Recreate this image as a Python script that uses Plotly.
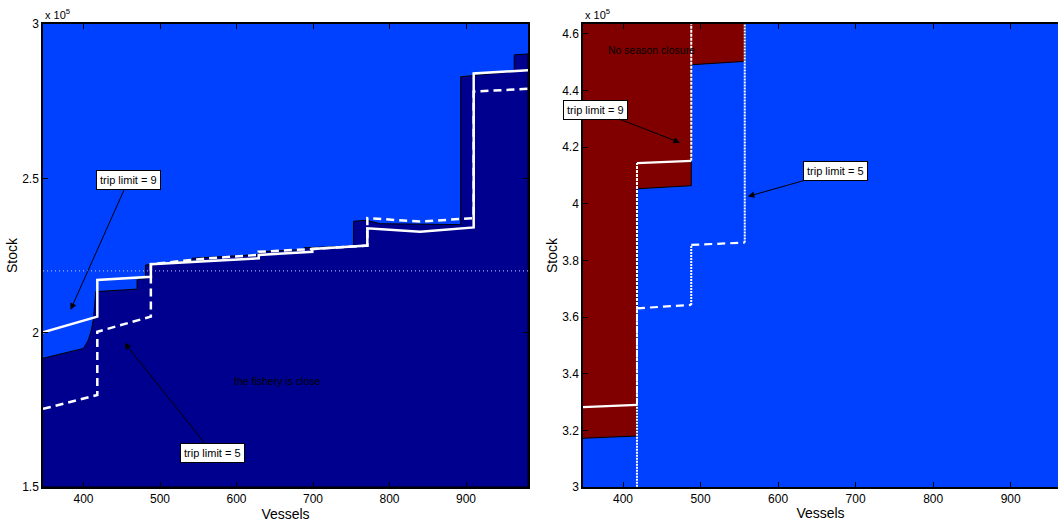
import plotly.graph_objects as go

# ---- data (stock in units of 1e5) ----
# Left panel: region where the fishery is closed (upper boundary)
closed_vessels = [347, 400, 406, 410, 413, 415, 416, 470, 470, 481, 481, 542, 542, 629, 629,
                  688, 688, 753, 753, 770, 788, 893, 893, 963, 963, 981]
closed_stock = [1.917, 1.949, 1.975, 2.005, 2.045, 2.09, 2.133, 2.141, 2.171, 2.175, 2.219,
                2.232, 2.241, 2.253, 2.262, 2.269, 2.275, 2.281, 2.361, 2.364, 2.353, 2.35,
                2.829, 2.846, 2.9, 2.903]

# Left panel: trip limit = 9 (solid) and trip limit = 5 (dashed)
tl9_vessels = [347, 418, 418, 488, 488, 629, 629, 699, 699, 771, 771, 840, 910, 910, 981]
tl9_stock = [2.001, 2.052, 2.171, 2.181, 2.222, 2.241, 2.252, 2.262, 2.271, 2.282, 2.338,
             2.327, 2.341, 2.84, 2.85]
tl5_vessels = [347, 418, 418, 488, 488, 559, 629, 629, 699, 771, 771, 840, 910, 910, 981]
tl5_stock = [1.753, 1.798, 2.003, 2.052, 2.222, 2.24, 2.252, 2.262, 2.271, 2.282, 2.371,
             2.36, 2.371, 2.781, 2.79]
ref_stock = 2.2

# Right panel: no season closure region (lower boundary)
open_vessels = [347, 418, 418, 488, 488, 557, 557, 347]
open_stock = [3.172, 3.18, 4.053, 4.064, 4.491, 4.503, 4.64, 4.64]

# Right panel trip limit lines
r9_vessels = [347, 418, 418, 488, 488]
r9_stock = [3.282, 3.29, 4.144, 4.152, 4.64]
r5_vessels = [418, 418, 488, 488, 557, 557]
r5_stock = [2.99, 3.631, 3.643, 3.855, 3.863, 4.64]

x_ticks = [400, 500, 600, 700, 800, 900]
left_y_ticks = [1.5, 2, 2.5, 3]
right_y_ticks = [3, 3.2, 3.4, 3.6, 3.8, 4, 4.2, 4.4, 4.6]

LIGHT = "#0040FF"
DARK = "#00008F"
MAROON = "#800000"
FONT = "Liberation Sans, Arial, sans-serif"


def split_steps(xs, ys):
    """Split a step line into its vertical and sloped/horizontal pieces."""
    vert_x, vert_y, flat_x, flat_y = [], [], [], []
    for i in range(len(xs) - 1):
        tx, ty = (vert_x, vert_y) if xs[i] == xs[i + 1] else (flat_x, flat_y)
        tx += [xs[i], xs[i + 1], None]
        ty += [ys[i], ys[i + 1], None]
    return vert_x, vert_y, flat_x, flat_y


fig = go.Figure()

fig.add_trace(go.Scatter(
    x=closed_vessels + [981, 347], y=closed_stock + [1.5, 1.5],
    fill="toself", fillcolor=DARK, mode="lines",
    line=dict(color="black", width=1), xaxis="x", yaxis="y", hoverinfo="skip"))
fig.add_trace(go.Scatter(
    x=[347, 981], y=[ref_stock, ref_stock], mode="lines",
    line=dict(color="rgba(215,220,255,0.75)", width=1.2, dash="1px,3px"),
    xaxis="x", yaxis="y"))
fig.add_trace(go.Scatter(
    x=tl5_vessels, y=tl5_stock, mode="lines",
    line=dict(color="white", width=2.5, dash="8px,5px"), xaxis="x", yaxis="y"))
fig.add_trace(go.Scatter(
    x=tl9_vessels, y=tl9_stock, mode="lines",
    line=dict(color="white", width=2.5), xaxis="x", yaxis="y"))

fig.add_trace(go.Scatter(
    x=open_vessels, y=open_stock, fill="toself", fillcolor=MAROON, mode="lines",
    line=dict(color="black", width=1), xaxis="x2", yaxis="y2", hoverinfo="skip"))

r5_vx, r5_vy, r5_fx, r5_fy = split_steps(r5_vessels, r5_stock)
fig.add_trace(go.Scatter(
    x=r5_vx, y=r5_vy, mode="lines",
    line=dict(color="white", width=2, dash="2px,1px"), xaxis="x2", yaxis="y2"))
fig.add_trace(go.Scatter(
    x=r5_fx, y=r5_fy, mode="lines",
    line=dict(color="white", width=2.2, dash="8px,5px"), xaxis="x2", yaxis="y2"))

r9_vx, r9_vy, r9_fx, r9_fy = split_steps(r9_vessels, r9_stock)
fig.add_trace(go.Scatter(
    x=r9_vx, y=r9_vy, mode="lines",
    line=dict(color="white", width=2, dash="3px,1px"), xaxis="x2", yaxis="y2"))
fig.add_trace(go.Scatter(
    x=r9_fx, y=r9_fy, mode="lines",
    line=dict(color="white", width=2.2), xaxis="x2", yaxis="y2"))

W, H = 1058, 525
axis_common = dict(showline=True, linecolor="black", linewidth=1.5,
                   ticks="inside", ticklen=5, tickcolor="black", tickwidth=1,
                   showgrid=False, zeroline=False,
                   tickfont=dict(family=FONT, size=12, color="black"))

fig.update_layout(
    width=W, height=H, showlegend=False,
    margin=dict(l=0, r=0, t=24, b=38),
    paper_bgcolor="white", plot_bgcolor=LIGHT,
    font=dict(family=FONT, color="black"),
    xaxis=dict(domain=[43 / W, 528 / W], range=[347, 981], tickvals=x_ticks, anchor="y",
               mirror="ticks",
               title=dict(text="Vessels", font=dict(size=14), standoff=3), **axis_common),
    yaxis=dict(domain=[0, 1], range=[1.5, 3.0], tickvals=left_y_ticks, anchor="x",
               mirror="ticks",
               title=dict(text="Stock", font=dict(size=14), standoff=1), **axis_common),
    xaxis2=dict(domain=[583 / W, 1], range=[348.4, 961], tickvals=x_ticks, anchor="y2",
                mirror="ticks",
                title=dict(text="Vessels", font=dict(size=14), standoff=3), **axis_common),
    yaxis2=dict(domain=[0, 1], range=[3.0, 4.635], tickvals=right_y_ticks, anchor="x2",
                mirror=False,
                title=dict(text="Stock", font=dict(size=14), standoff=1), **axis_common),
)

box = dict(bgcolor="white", bordercolor="black", borderwidth=1, borderpad=3,
           font=dict(family=FONT, size=11, color="black"),
           showarrow=True, arrowhead=2, arrowsize=1.3, arrowwidth=1, arrowcolor="black")

annotations = [
    dict(text="trip limit = 9", x=383, y=2.074, xref="x", yref="y", ax=58, ay=-130, **box),
    dict(text="trip limit = 5", x=453.6, y=1.967, xref="x", yref="y", ax=88, ay=110, **box),
    dict(text="the fishery is close", x=653.6, y=1.843, xref="x", yref="y", showarrow=False,
         font=dict(family=FONT, size=10.5, color="black")),
    dict(text="trip limit = 9", x=473.5, y=4.216, xref="x2", yref="y2", ax=-85, ay=-33, **box),
    dict(text="trip limit = 5", x=561, y=4.026, xref="x2", yref="y2", ax=88, ay=-25, **box),
    dict(text="No season closure", x=437, y=4.544, xref="x2", yref="y2", showarrow=False,
         font=dict(family=FONT, size=10.5, color="black")),
    dict(text="x 10<sup>5</sup>", x=43 / W, y=1, xref="paper", yref="paper",
         xanchor="left", yanchor="bottom", yshift=1, showarrow=False,
         font=dict(family=FONT, size=11, color="black")),
    dict(text="x 10<sup>5</sup>", x=583 / W, y=1, xref="paper", yref="paper",
         xanchor="left", yanchor="bottom", yshift=1, showarrow=False,
         font=dict(family=FONT, size=11, color="black")),
]
fig.update_layout(annotations=annotations)

fig.write_html("out.html")
